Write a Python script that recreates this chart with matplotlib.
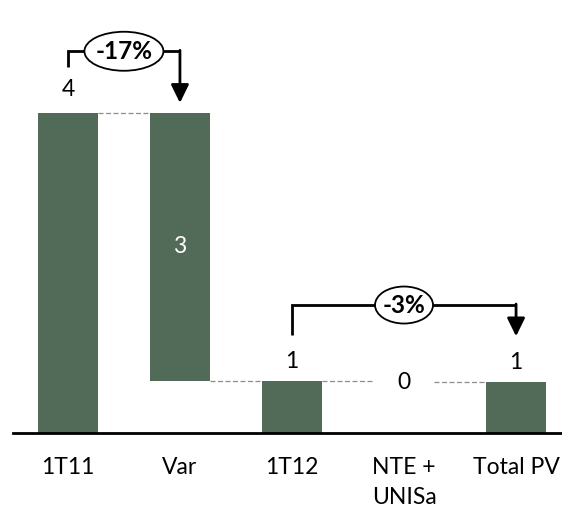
import matplotlib.pyplot as plt
from matplotlib.patches import Ellipse
from matplotlib.transforms import ScaledTranslation

# waterfall data
cats = ["1T11", "Var", "1T12", "NTE +\nUNISa", "Total PV"]
start_val = 4.40
var_val = -3.68
mid_val = 0.72
nte_val = -0.02
end_val = 0.70
value_labels = ["4", "3", "1", "0", "1"]
pct_labels = ["-17%", "-3%"]

bar_col = "#526b59"

plt.rcParams['font.family'] = ['Lato', 'DejaVu Sans']

fig = plt.figure(figsize=(5.62, 5.13), dpi=100)
ax = fig.add_axes([13 / 562, 1 - 433 / 513, 1 - 13 / 562, 433 / 513])

x = list(range(len(cats)))
bottoms = [0, start_val + var_val, 0, mid_val + nte_val, 0]
heights = [start_val, -var_val, mid_val, -nte_val, end_val]
w = 0.535
ax.bar(x[0], heights[0], w, bottom=bottoms[0], color=bar_col)
ax.bar(x[1], heights[1], w, bottom=bottoms[1], color=bar_col)
ax.bar(x[2], heights[2], w, bottom=bottoms[2], color=bar_col)
ax.bar(x[4], heights[4], w, bottom=bottoms[4], color=bar_col)

# dashed connectors
dash = dict(color="#8c8c8c", lw=0.9, ls=(0, (4, 2)))
ax.plot([x[0] + w / 2, x[1] - w / 2], [start_val, start_val], **dash)
ax.plot([x[1] + w / 2, x[2] - w / 2], [mid_val, mid_val], **dash)
ax.plot([x[2] + w / 2, x[3] - w / 2], [mid_val, mid_val], **dash)
ax.plot([x[3] + w / 2, x[4] - w / 2], [end_val, end_val], **dash)

fs = 16.5
ax.text(x[0], start_val + 0.32, value_labels[0], ha="center", va="center", fontsize=fs)
ax.text(x[1], start_val + var_val / 2, value_labels[1], ha="center", va="center",
        fontsize=fs, color="white")
ax.text(x[2], mid_val + 0.27, value_labels[2], ha="center", va="center", fontsize=fs)
ax.text(x[3], mid_val - 0.02, value_labels[3], ha="center", va="center", fontsize=fs)
ax.text(x[4], end_val + 0.27, value_labels[4], ha="center", va="center", fontsize=fs)


def bracket(x0, x1, y_low, y_top, tip, label, ew, eh):
    ax.plot([x0, x0, x1], [y_low, y_top, y_top], color="black", lw=2,
            solid_joinstyle="miter", solid_capstyle="butt")
    ax.annotate("", xy=(x1, tip), xytext=(x1, y_top + 0.013),
                arrowprops=dict(arrowstyle="-|>,head_length=0.55,head_width=0.27",
                                color="black", lw=2, shrinkA=0, shrinkB=0,
                                mutation_scale=20))
    xc = (x0 + x1) / 2
    tr = fig.dpi_scale_trans + ScaledTranslation(xc, y_top, ax.transData)
    ax.add_patch(Ellipse((0, 0), ew, eh, transform=tr, fc="white", ec="black",
                         lw=1.3, zorder=3))
    ax.text(xc, y_top, label, ha="center", va="center", fontsize=17.5,
            fontweight="bold", zorder=4)


bracket(x[0], x[1], 5.03, 5.25, 4.54, pct_labels[0], 0.79, 0.39)
bracket(x[2], x[4], 1.35, 1.76, 1.33, pct_labels[1], 0.58, 0.37)

ax.set_xlim(-0.49, 4.41)
ax.set_ylim(0, 5.955)
ax.set_xticks(x)
ax.set_xticklabels(cats, fontsize=fs, linespacing=1.55, va="top")
ax.tick_params(axis="x", length=0, pad=17)
ax.set_yticks([])
for s in ["top", "right", "left"]:
    ax.spines[s].set_visible(False)
ax.spines["bottom"].set_linewidth(2)
ax.patch.set_alpha(0)

fig.savefig("out.png", dpi=100)
